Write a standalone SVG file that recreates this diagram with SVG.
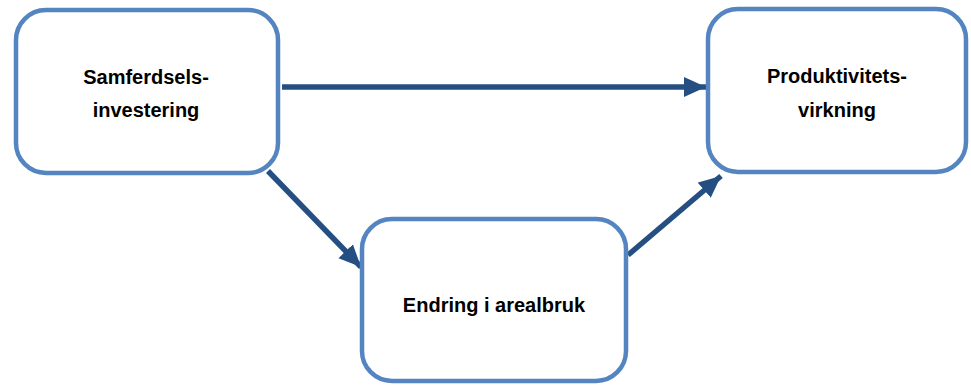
<svg xmlns="http://www.w3.org/2000/svg" width="971" height="385" viewBox="0 0 971 385">
<defs>
<style>
.box{fill:#ffffff;stroke:#5585c0;stroke-width:4.5}
.lbl{font-family:"Liberation Sans",Arial,sans-serif;font-weight:bold;font-size:20px;fill:#000000;text-anchor:middle}
.conn{stroke:#254f82;stroke-width:5.5;fill:none}
</style>
<marker id="ah" markerUnits="userSpaceOnUse" markerWidth="24" markerHeight="22" refX="22" refY="10" orient="auto" viewBox="0 0 24 20">
<path d="M0,0 L22,10 L0,20 Z" fill="#254f82"/>
</marker>
</defs>
<rect width="971" height="385" fill="#ffffff"/>
<g id="connectors">
<line class="conn" x1="282" y1="87" x2="706" y2="87" marker-end="url(#ah)"/>
<line class="conn" x1="268" y1="171" x2="361" y2="267" marker-end="url(#ah)"/>
<line class="conn" x1="628" y1="255" x2="721" y2="176" marker-end="url(#ah)"/>
</g>
<g id="node-samferdsel">
<rect class="box" x="16" y="10" width="262" height="163" rx="30" ry="30"/>
<text class="lbl" x="146" y="84">Samferdsels-</text>
<text class="lbl" x="146" y="117">investering</text>
</g>
<g id="node-produktivitet">
<rect class="box" x="708" y="9" width="258" height="163" rx="30" ry="30"/>
<text class="lbl" x="837" y="83">Produktivitets-</text>
<text class="lbl" x="837" y="117">virkning</text>
</g>
<g id="node-arealbruk">
<rect class="box" x="362" y="219" width="264" height="162" rx="30" ry="30"/>
<text class="lbl" x="494" y="312">Endring i arealbruk</text>
</g>
</svg>
